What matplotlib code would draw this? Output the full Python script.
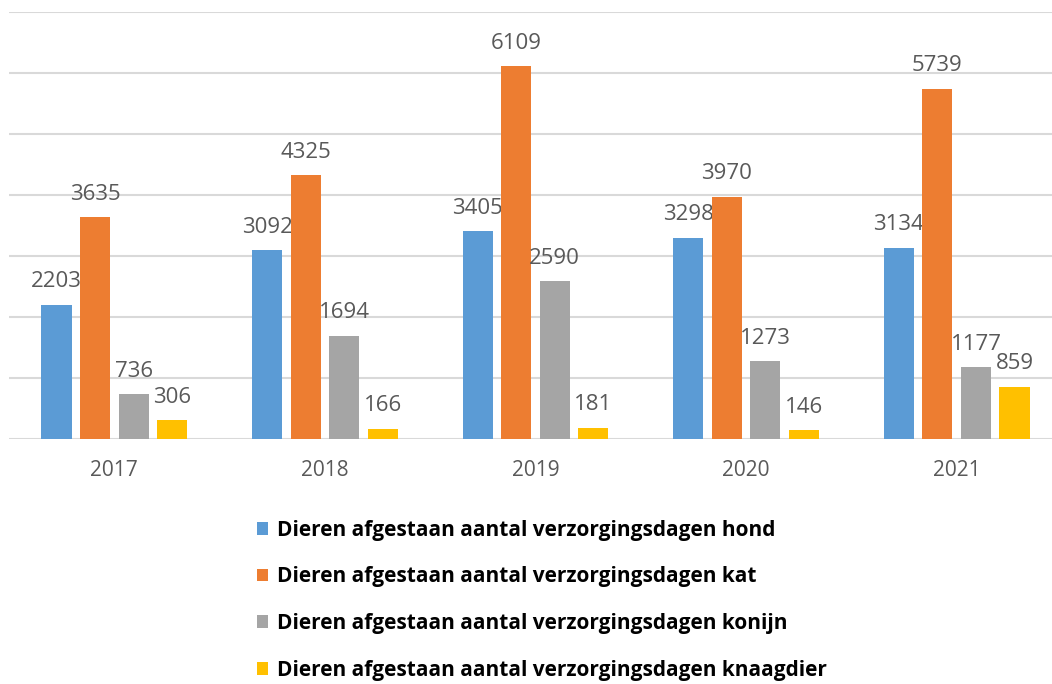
import numpy as np
import matplotlib.pyplot as plt

years = ["2017", "2018", "2019", "2020", "2021"]
hond = [2203, 3092, 3405, 3298, 3134]
kat = [3635, 4325, 6109, 3970, 5739]
konijn = [736, 1694, 2590, 1273, 1177]
knaagdier = [306, 166, 181, 146, 859]

series = [
    ("Dieren afgestaan aantal verzorgingsdagen hond", hond, "#5b9bd5"),
    ("Dieren afgestaan aantal verzorgingsdagen kat", kat, "#ed7d31"),
    ("Dieren afgestaan aantal verzorgingsdagen konijn", konijn, "#a5a5a5"),
    ("Dieren afgestaan aantal verzorgingsdagen knaagdier", knaagdier, "#ffc000"),
]

plt.rcParams['font.family'] = ['Open Sans', 'DejaVu Sans']

fig = plt.figure(figsize=(10.52, 6.84), dpi=100)
ax = fig.add_axes([9 / 1052, 1 - 439 / 684, 1053 / 1052, 427 / 684])

x = np.arange(len(years))
width = 0.143
step = 0.183
offsets = (np.arange(4) - 1.5) * step

for (label, vals, color), off in zip(series, offsets):
    bars = ax.bar(x + off, vals, width, color=color, label=label, zorder=3)
    for b, v in zip(bars, vals):
        ax.annotate(str(v), (b.get_x() + b.get_width() / 2, v),
                    xytext=(0, 9), textcoords="offset points",
                    ha="center", va="bottom", fontsize=16, color="#595959")

ax.set_xlim(-0.5, 4.5)
ax.set_ylim(0, 7000)
ax.set_yticks(np.arange(0, 7001, 1000))
ax.set_yticklabels([])
ax.tick_params(axis="y", length=0)
ax.set_xticks(x)
ax.set_xticklabels(years, fontsize=15, color="#595959")
ax.tick_params(axis="x", length=0, pad=15)
ax.grid(axis="y", color="#d9d9d9", linewidth=1.5, zorder=0)
for s in ax.spines.values():
    s.set_visible(False)

handles, labels = ax.get_legend_handles_labels()
leg = fig.legend(handles, labels, loc="upper left", bbox_to_anchor=(238 / 1052, 1 - 501 / 684),
                 frameon=False, ncol=1, handlelength=0.55, handleheight=0.55, handletextpad=0.4,
                 labelspacing=1.23, prop={"size": 15, "weight": "bold"})

fig.savefig("out.png", dpi=100)
